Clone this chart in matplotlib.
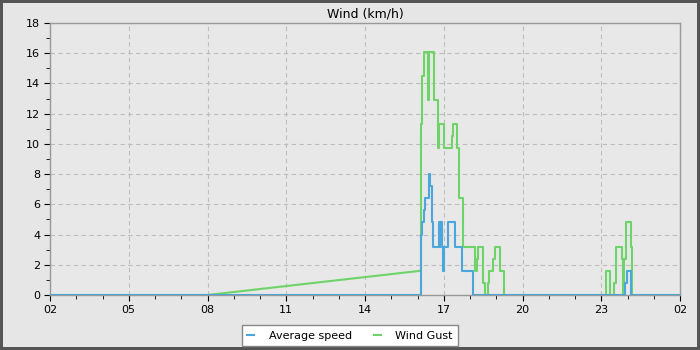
import matplotlib
matplotlib.use("Agg")
import matplotlib.pyplot as plt
from matplotlib.ticker import MultipleLocator, FixedLocator
import numpy as np

# --- Data (clock time of each change, new value in km/h) ---
AVG_TIMES = ["02:00", "16:08", "16:10", "16:14", "16:16", "16:27", "16:29", "16:32",
             "16:35", "16:49", "16:51", "16:52", "16:56", "16:58", "17:01", "17:10",
             "17:26", "17:42", "18:06", "23:54", "23:58", "00:09"]
AVG_VALUES = [0.0, 4.0, 4.8, 5.6, 6.4, 8.0, 7.2, 4.8,
              3.2, 4.8, 3.2, 4.8, 3.2, 1.6, 3.2, 4.8,
              3.2, 1.6, 0.0, 0.8, 1.6, 0.0]

# gust has no readings between 08:00 and 16:06, so that stretch is a straight line
GUST_GAP_TIMES = ["02:00", "08:00", "16:06"]
GUST_GAP_VALUES = [0.0, 0.0, 1.6]

GUST_TIMES = ["16:06", "16:07", "16:10", "16:14", "16:15", "16:23", "16:27", "16:38",
              "16:47", "16:49", "17:00", "17:19", "17:21", "17:30", "17:35", "17:43",
              "18:11", "18:15", "18:19", "18:30", "18:34", "18:40", "18:43", "18:53",
              "18:57", "19:09", "19:18", "23:10", "23:20", "23:30", "23:34", "23:48",
              "23:50", "23:53", "23:56", "00:08", "00:10"]
GUST_VALUES = [1.6, 11.3, 14.5, 15.3, 16.1, 12.9, 16.1, 12.9,
               9.7, 11.3, 9.7, 10.5, 11.3, 9.7, 6.4, 3.2,
               1.6, 2.4, 3.2, 0.8, 0.0, 0.8, 1.6, 2.4,
               3.2, 1.6, 0.0, 1.6, 0.0, 0.8, 3.2, 2.4,
               0.0, 2.4, 4.8, 3.2, 0.0]

TICK_LABELS = ["02", "05", "08", "11", "14", "17", "20", "23", "02"]

START_HOUR = 2
SPAN = 24


def to_hours(clock):
    """Hours elapsed since the 02:00 start of the window."""
    hh, mm = clock.split(":")
    return (int(hh) + int(mm) / 60.0 - START_HOUR) % 24


def with_end(times, values):
    t = [to_hours(c) for c in times] + [SPAN]
    v = list(values) + [values[-1]]
    return t, v


BLUE = "#4ba6db"
GREEN = "#6ed46a"
BG = "#e6e6e6"

fig = plt.figure(figsize=(7, 3.5), dpi=100, facecolor=BG,
                 edgecolor="#555555", linewidth=3)
ax = fig.add_axes([50 / 700, 55 / 350, 630 / 700, 272 / 350])
ax.set_facecolor("#e8e8e8")

gap_t = [to_hours(c) for c in GUST_GAP_TIMES]
ax.plot(gap_t, GUST_GAP_VALUES, color=GREEN, lw=1.5, zorder=2)
gt, gv = with_end(GUST_TIMES, GUST_VALUES)
ax.plot(gt, gv, color=GREEN, lw=1.5, drawstyle="steps-post", zorder=2,
        label="Wind Gust")
at, av = with_end(AVG_TIMES, AVG_VALUES)
ax.plot(at, av, color=BLUE, lw=1.5, drawstyle="steps-post", zorder=3,
        label="Average speed")

ax.set_xlim(0, SPAN)
ax.set_ylim(0, 18)
ax.xaxis.set_major_locator(FixedLocator(np.arange(0, SPAN + 1, 3)))
ax.set_xticklabels(TICK_LABELS)
ax.xaxis.set_minor_locator(MultipleLocator(1))
ax.yaxis.set_major_locator(MultipleLocator(2))
ax.yaxis.set_minor_locator(MultipleLocator(1))
ax.tick_params(which="both", direction="out", color="black", labelsize=8,
               pad=3)
ax.tick_params(which="major", length=4)
ax.tick_params(which="minor", length=3)
ax.grid(True, which="major", color="#bdbdbd", linestyle=(0, (4, 3)), lw=0.8)
ax.set_axisbelow(True)
for side in ax.spines.values():
    side.set_color("#999999")
    side.set_linewidth(1)

ax.set_title("Wind (km/h)", fontsize=9, pad=4)

handles, labels = ax.get_legend_handles_labels()
order = [labels.index("Average speed"), labels.index("Wind Gust")]
leg = fig.legend([handles[i] for i in order], [labels[i] for i in order],
                 loc="upper center", bbox_to_anchor=(0.5, 25 / 350), ncol=2,
                 fontsize=8, frameon=True, fancybox=False, framealpha=1,
                 edgecolor="#888888", handlelength=0.6, handletextpad=1.3,
                 columnspacing=2.0, borderpad=0.5, borderaxespad=0)
leg.get_frame().set_linewidth(1)

fig.savefig("out.png", dpi=100, facecolor=fig.get_facecolor(),
            edgecolor=fig.get_edgecolor())
